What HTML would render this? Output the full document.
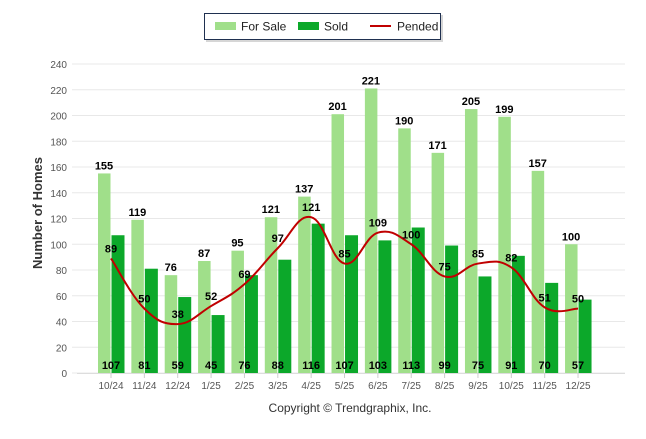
<!DOCTYPE html>
<html><head><meta charset="utf-8"><style>
body{margin:0;background:#fff;font-family:"Liberation Sans",Arial,sans-serif}
svg text{font-family:"Liberation Sans",Arial,sans-serif}
</style></head><body>
<svg id="c" width="646" height="434" xmlns="http://www.w3.org/2000/svg">
<g>
<rect x="206" y="15" width="237" height="27" fill="#bbb" opacity="0.6"/>
<rect x="204.5" y="13.5" width="236" height="26" fill="#fff" stroke="#1f3050" stroke-width="1"/>
<rect x="215" y="22" width="21" height="8" fill="#a0df8a"/>
<text x="241" y="30.5" font-size="12" fill="#222">For Sale</text>
<rect x="298" y="22" width="21" height="8" fill="#0ca82a"/>
<text x="324" y="30.5" font-size="12" fill="#222">Sold</text>
<line x1="370" y1="26" x2="391" y2="26" stroke="#c00000" stroke-width="2"/>
<text x="397" y="30.5" font-size="12" fill="#222">Pended</text>
</g>
<text transform="translate(42,213) rotate(-90)" text-anchor="middle" font-size="13" font-weight="bold" fill="#333">Number of Homes</text>
<text x="350" y="412" text-anchor="middle" font-size="12" fill="#333">Copyright © Trendgraphix, Inc.</text>
<g id="grid"></g><g id="bars"></g><g id="line"></g><g id="labels"></g>
</svg>
<script>
const categories=["10/24","11/24","12/24","1/25","2/25","3/25","4/25","5/25","6/25","7/25","8/25","9/25","10/25","11/25","12/25"];
const forSale=[155,119,76,87,95,121,137,201,221,190,171,205,199,157,100];
const sold=[107,81,59,45,76,88,116,107,103,113,99,75,91,70,57];
const pended=[89,50,38,52,69,97,121,85,109,100,75,85,82,51,50];
const yTicks=[0,20,40,60,80,100,120,140,160,180,200,220,240];
const NS="http://www.w3.org/2000/svg";
const y=v=>373-v*(309/240);
const x=i=>111+i*33.36;
function mk(t,a,p,txt){const e=document.createElementNS(NS,t);for(const k in a)e.setAttribute(k,a[k]);if(txt!==undefined)e.textContent=txt;p.appendChild(e);return e;}
const grid=document.getElementById('grid'),bars=document.getElementById('bars'),line=document.getElementById('line'),labels=document.getElementById('labels');
yTicks.forEach(t=>{
  const l=mk('line',{x1:72,x2:625,y1:y(t),y2:y(t),stroke:'#e8e8e8','stroke-width':1},grid);
  
  
  const tx=mk('text',{x:67,y:y(t)+4,'text-anchor':'end','font-size':10,fill:'#555'},grid,t);
  
  
});
mk('line',{x1:77,x2:625,y1:373.5,y2:373.5,stroke:'#ddd'},grid);
categories.forEach((c,i)=>{
  const tk=mk('line',{x1:x(i),x2:x(i),y1:373,y2:378,stroke:'#ccc'},grid);
  const tx=mk('text',{x:x(i),y:389,'text-anchor':'middle','font-size':10,fill:'#555'},grid,c);
  
  
  const b1=mk('rect',{x:x(i)-13,y:y(forSale[i]),width:12.5,height:y(0)-y(forSale[i]),fill:'#a0df8a'},bars);
  
  
  const b2=mk('rect',{x:x(i)+0.5,y:y(sold[i]),width:13,height:y(0)-y(sold[i]),fill:'#0ca82a'},bars);
  
  
  const l1=mk('text',{x:x(i)-7,y:y(forSale[i])-4,'text-anchor':'middle','font-size':11,'font-weight':'bold',fill:'#000'},labels,forSale[i]);
  
  
  const l2=mk('text',{x:x(i),y:369,'text-anchor':'middle','font-size':11,'font-weight':'bold',fill:'#000'},labels,sold[i]);
  
  
  const l3=mk('text',{x:x(i),y:y(pended[i])-6,'text-anchor':'middle','font-size':11,'font-weight':'bold',fill:'#000'},labels,pended[i]);
  
  
});
const pts=pended.map((v,i)=>[x(i),y(v)]);
let d='M'+pts[0][0]+','+pts[0][1];
for(let i=0;i<pts.length-1;i++){
  const p0=pts[Math.max(0,i-1)],p1=pts[i],p2=pts[i+1],p3=pts[Math.min(pts.length-1,i+2)];
  const t=0.2;
  d+=` C${p1[0]+(p2[0]-p0[0])*t},${p1[1]+(p2[1]-p0[1])*t} ${p2[0]-(p3[0]-p1[0])*t},${p2[1]-(p3[1]-p1[1])*t} ${p2[0]},${p2[1]}`;
}
const pl=mk('path',{d:d,fill:'none',stroke:'#c00000','stroke-width':2},line);


</script>
</body></html>
